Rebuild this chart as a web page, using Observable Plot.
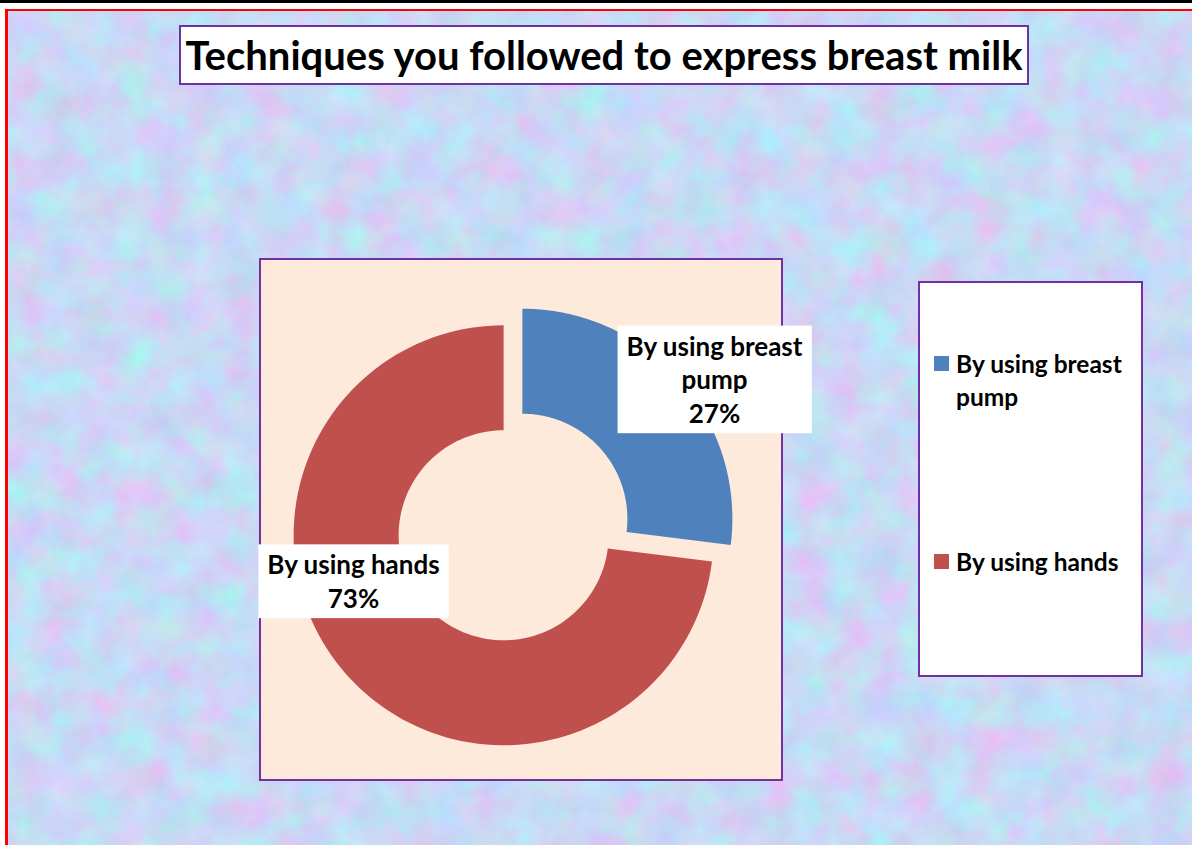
<!DOCTYPE html>
<html>
<head>
<meta charset="utf-8">
<script src="https://cdn.jsdelivr.net/npm/d3@7"></script>
<script src="https://cdn.jsdelivr.net/npm/@observablehq/plot@0.6"></script>
<style>
  html, body { margin: 0; padding: 0; width: 1192px; height: 845px; overflow: hidden; background: #fff; }
  body { position: relative; font-family: Lato, "Open Sans", sans-serif; font-weight: bold; }
  #topbar { position: absolute; left: 0; top: 0; width: 1192px; height: 3px; background: #000; }
  #frame { position: absolute; left: 5px; top: 9px; width: 1187px; height: 836px; border-left: 3px solid #ff0000; border-top: 2px solid #ff0000; box-sizing: border-box; }
  #bg { position: absolute; left: 8px; top: 11px; width: 1184px; height: 834px; }
  #title { position: absolute; left: 179px; top: 25px; width: 850px; height: 60px; box-sizing: border-box; background: #fff; border: 2px solid #7030A0; font-size: 40px; font-weight: bold; color: #000; display: flex; align-items: center; justify-content: center; white-space: nowrap; }
  #plotarea { position: absolute; left: 259px; top: 258px; width: 524px; height: 523px; box-sizing: border-box; background: #FDEADA; border: 2px solid #7030A0; }
  #chart { position: absolute; left: 259px; top: 258px; width: 524px; height: 523px; }
  #chart svg { overflow: visible; }
  #legend { position: absolute; left: 918px; top: 281px; width: 225px; height: 396px; box-sizing: border-box; background: #fff; border: 2px solid #7030A0; }
  .li { position: absolute; left: 14px; font-size: 24.5px; line-height: 33px; color: #000; }
  .li .sw { position: absolute; left: 0; top: 9px; width: 15px; height: 15px; }
  .li .tx { position: absolute; left: 22px; top: 0; width: 185px; }
</style>
</head>
<body>
<div id="topbar"></div>
<div id="frame"></div>
<svg id="bg" xmlns="http://www.w3.org/2000/svg" width="1184" height="834">
  <filter id="tex" x="0" y="0" width="100%" height="100%" color-interpolation-filters="sRGB">
    <feTurbulence type="fractalNoise" baseFrequency="0.028" numOctaves="4" seed="7"/>
    <feColorMatrix type="matrix" values="0.26 -0.13 0 0 0.72  -0.12 0.22 0 0 0.80  0 0 0.1 0 0.91  0 0 0 0 1"/>
  </filter>
  <rect width="100%" height="100%" filter="url(#tex)"/>
</svg>
<div id="title">Techniques you followed to express breast milk</div>
<div id="plotarea"></div>
<div id="chart"></div>
<div id="legend"></div>
<script>
// ---- data ----
const categories = ["By using breast pump", "By using hands"];
const percents = [27, 73];
const colors = ["#4F81BD", "#C0504D"];

// ---- layout constants (pixels) ----
const W = 524, H = 523;          // svg size (same as plot area box)
const R = 210;                   // outer radius in px
const cxPx = 253.5, cyPx = 268.5; // donut centre inside svg
const holeRatio = 0.5;
const explode = 12.5 / R;        // each slice pulled out along its mid angle

// ---- build slice polygons from values ----
const total = d3.sum(percents);
let acc = 0;
const slices = categories.map((c, i) => {
  const a0 = acc / total * 2 * Math.PI;
  acc += percents[i];
  const a1 = acc / total * 2 * Math.PI;
  return {cat: c, pct: percents[i], a0, a1, mid: (a0 + a1) / 2};
});
const pts = [];
for (const s of slices) {
  const ox = explode * Math.sin(s.mid), oy = explode * Math.cos(s.mid);
  const n = 120;
  for (let k = 0; k <= n; k++) {
    const a = s.a0 + (s.a1 - s.a0) * k / n;
    pts.push({cat: s.cat, x: ox + Math.sin(a), y: oy + Math.cos(a)});
  }
  for (let k = n; k >= 0; k--) {
    const a = s.a0 + (s.a1 - s.a0) * k / n;
    pts.push({cat: s.cat, x: ox + holeRatio * Math.sin(a), y: oy + holeRatio * Math.cos(a)});
  }
}
function wrap(str, max) {
  const words = str.split(" "); const lines = []; let cur = "";
  for (const w of words) {
    if (cur && (cur + " " + w).length > max) { lines.push(cur); cur = w; }
    else cur = cur ? cur + " " + w : w;
  }
  lines.push(cur);
  return lines.join("\n");
}
const labels = slices.map(s => {
  const rr = (1 + holeRatio) / 2 + explode;
  return {cat: s.cat, x: rr * Math.sin(s.mid), y: rr * Math.cos(s.mid), text: wrap(s.cat, 15) + "\n" + s.pct + "%"};
});

const labelStyle = {x: "x", y: "y", text: "text", fontSize: 26, fontWeight: "bold", fontFamily: "Lato", lineHeight: 1.3, fill: "#000"};
const chart = Plot.plot({
  width: W, height: H,
  margin: 0,
  style: {background: "transparent", overflow: "visible"},
  x: {domain: [-cxPx / R, (W - cxPx) / R], axis: null},
  y: {domain: [-(H - cyPx) / R, cyPx / R], axis: null},
  color: {domain: categories, range: colors},
  marks: [
    Plot.line(pts, {x: "x", y: "y", z: "cat", fill: "cat", stroke: null, curve: "linear-closed"}),
    Plot.text(labels.filter(d => d.cat === categories[0]), {...labelStyle, dx: 74, dy: -36}),
    Plot.text(labels.filter(d => d.cat === categories[1]), {...labelStyle, dx: -32, dy: -59})
  ]
});
document.getElementById("chart").appendChild(chart);

// white boxes behind data labels
d3.select(chart).selectAll("g[aria-label='text'] text").each(function() {
  const b = this.getBBox();
  const padX = 9, padY = 4;
  const tr = this.getAttribute("transform");
  const r = document.createElementNS("http://www.w3.org/2000/svg", "rect");
  r.setAttribute("x", b.x - padX); r.setAttribute("y", b.y - padY);
  r.setAttribute("width", b.width + 2 * padX); r.setAttribute("height", b.height + 2 * padY);
  r.setAttribute("fill", "#fff");
  if (tr) r.setAttribute("transform", tr);
  this.parentNode.insertBefore(r, this);
});

// legend
const legendTops = [64, 262];
const lg = d3.select("#legend");
categories.forEach((c, i) => {
  const it = lg.append("div").attr("class", "li").style("top", legendTops[i] + "px");
  it.append("div").attr("class", "sw").style("background", colors[i]);
  it.append("div").attr("class", "tx").text(c);
});
</script>
</body>
</html>
